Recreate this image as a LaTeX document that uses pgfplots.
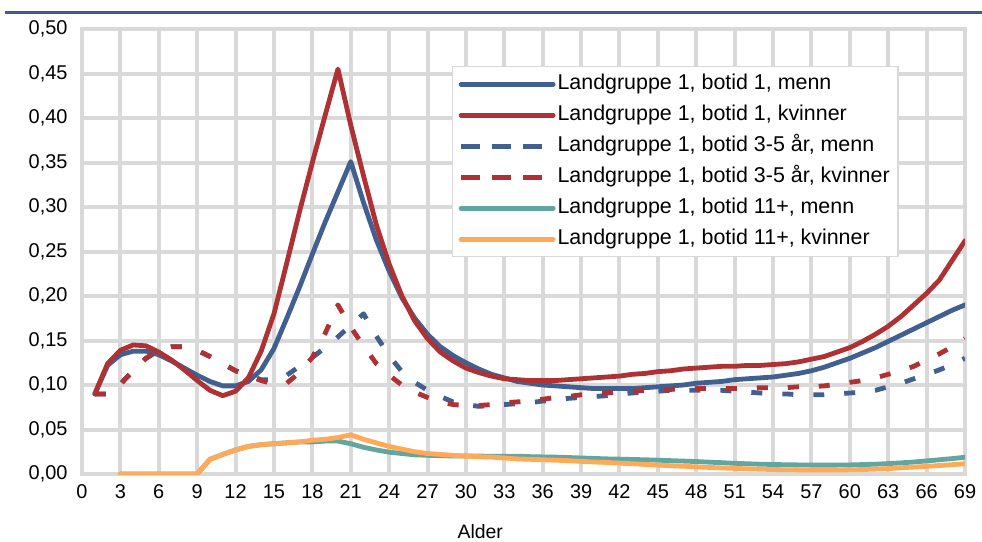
\documentclass[border=0pt]{standalone}
\usepackage{pgfplots}
\pgfplotsset{compat=1.18}
\usepackage{pgfplotstable}
\usepackage{fontspec}
\setmainfont{Liberation Sans}
\definecolor{cblue}{HTML}{41608F}
\definecolor{cred}{HTML}{AE3133}
\definecolor{cteal}{HTML}{62A6A0}
\definecolor{corange}{HTML}{FFAA58}
\definecolor{cgrid}{HTML}{D9D9D9}
\definecolor{ctop}{HTML}{3F5C8E}
\pgfplotstableread{
age b1m b1k b35m b35k b11m b11k
1 0.090 0.090 0.090 0.090 nan nan
2 0.122 0.124 0.090 0.090 nan nan
3 0.134 0.139 0.101 0.101 0.000 0.000
4 0.138 0.145 0.116 0.116 0.000 0.000
5 0.138 0.144 0.130 0.130 0.000 0.000
6 0.134 0.137 0.139 0.139 0.000 0.000
7 0.127 0.128 0.143 0.143 0.000 0.000
8 0.119 0.117 0.143 0.143 0.000 0.000
9 0.111 0.105 0.139 0.139 0.000 0.000
10 0.104 0.094 0.132 0.132 0.0165 0.0165
11 0.099 0.088 0.124 0.124 0.022 0.022
12 0.099 0.093 0.116 0.116 0.027 0.027
13 0.104 0.108 0.111 0.110 0.031 0.031
14 0.117 0.138 0.106 0.105 0.033 0.033
15 0.141 0.180 0.106 0.101 0.034 0.034
16 0.175 0.237 0.111 0.102 0.035 0.035
17 0.210 0.295 0.121 0.114 0.036 0.036
18 0.247 0.350 0.131 0.131 0.036 0.038
19 0.283 0.403 0.142 0.158 0.037 0.039
20 0.317 0.455 0.154 0.190 0.037 0.041
21 0.351 0.392 0.167 0.165 0.034 0.044
22 0.305 0.335 0.180 0.144 0.030 0.039
23 0.263 0.280 0.155 0.124 0.027 0.035
24 0.228 0.236 0.133 0.111 0.0245 0.031
25 0.198 0.200 0.115 0.100 0.023 0.028
26 0.175 0.172 0.103 0.092 0.0215 0.025
27 0.157 0.152 0.094 0.086 0.021 0.023
28 0.143 0.137 0.087 0.081 0.0205 0.022
29 0.133 0.127 0.081 0.078 0.0203 0.021
30 0.125 0.119 0.078 0.077 0.0202 0.020
31 0.118 0.114 0.076 0.077 0.0201 0.0195
32 0.112 0.110 0.077 0.078 0.0200 0.019
33 0.108 0.107 0.078 0.080 0.0200 0.018
34 0.104 0.106 0.079 0.081 0.0200 0.017
35 0.102 0.105 0.080 0.082 0.0195 0.0165
36 0.100 0.105 0.082 0.084 0.0192 0.016
37 0.099 0.105 0.083 0.086 0.019 0.0155
38 0.098 0.106 0.085 0.087 0.0185 0.015
39 0.097 0.107 0.086 0.089 0.018 0.0142
40 0.096 0.108 0.087 0.090 0.0175 0.0135
41 0.096 0.109 0.088 0.091 0.017 0.013
42 0.096 0.110 0.090 0.092 0.0167 0.0122
43 0.096 0.112 0.091 0.093 0.0163 0.0115
44 0.097 0.113 0.092 0.094 0.016 0.0108
45 0.098 0.115 0.093 0.094 0.0155 0.010
46 0.099 0.116 0.094 0.095 0.015 0.0093
47 0.100 0.118 0.094 0.096 0.0145 0.0087
48 0.102 0.119 0.094 0.096 0.014 0.008
49 0.103 0.120 0.094 0.096 0.0133 0.0074
50 0.104 0.121 0.094 0.096 0.0127 0.0068
51 0.106 0.121 0.093 0.096 0.012 0.0063
52 0.107 0.122 0.092 0.096 0.0115 0.0058
53 0.108 0.122 0.091 0.097 0.011 0.0054
54 0.109 0.123 0.090 0.097 0.0107 0.005
55 0.111 0.124 0.090 0.097 0.0104 0.0048
56 0.113 0.126 0.089 0.098 0.0102 0.0046
57 0.116 0.129 0.089 0.098 0.010 0.0045
58 0.120 0.132 0.089 0.099 0.010 0.0045
59 0.125 0.137 0.090 0.101 0.010 0.0045
60 0.130 0.142 0.091 0.103 0.0102 0.0047
61 0.136 0.149 0.092 0.105 0.0106 0.005
62 0.142 0.157 0.094 0.108 0.011 0.0055
63 0.149 0.166 0.098 0.112 0.0117 0.006
64 0.156 0.177 0.102 0.116 0.0125 0.007
65 0.163 0.190 0.107 0.121 0.0135 0.0078
66 0.170 0.203 0.112 0.128 0.0147 0.0086
67 0.177 0.218 0.117 0.135 0.016 0.0095
68 0.184 0.240 0.123 0.143 0.0173 0.0105
69 0.190 0.262 0.130 0.152 0.0188 0.0115
}\data
\begin{document}
\begin{tikzpicture}
\useasboundingbox (-82bp,-68bp) rectangle (900bp,474bp);
\draw[ctop, line width=3bp] (-77bp,461bp) -- (900bp,461bp);
\begin{axis}[
  at={(0,0)}, anchor=south west,
  scale only axis, width=883bp, height=445bp,
  xmin=0, xmax=69, ymin=0, ymax=0.5,
  xtick={0,3,...,69},
  ytick={0,0.05,0.1,0.15,0.2,0.25,0.3,0.35,0.4,0.45,0.5},
  grid=major,
  grid style={draw=cgrid, line width=4bp},
  axis line style={draw=cgrid, line width=4bp},
  tick style={draw=none}, major tick length=0pt,
  ticklabel style={font=\fontsize{20}{23}\selectfont},
  /pgf/number format/assume math mode=true,
  yticklabel style={/pgf/number format/fixed, /pgf/number format/fixed zerofill,
    /pgf/number format/precision=2, /pgf/number format/use comma, xshift=-11bp},
  xticklabel style={yshift=-7bp},
  xlabel={Alder},
  xlabel style={at={(axis description cs:0.451,0)}, anchor=center, yshift=-58bp, font=\fontsize{19.5}{23}\selectfont},
  legend style={at={(0.419,0.917)}, anchor=north west, draw=cgrid, line width=1.5bp, fill=white,
    font=\fontsize{21.5}{25}\selectfont, inner xsep=6bp, inner ysep=2bp,
    nodes={inner ysep=5.5bp, inner xsep=2bp, text height=15.5bp, text depth=4.5bp}},
  legend cell align=left,
  legend image code/.code={\path (-8bp,0bp) -- (84bp,0bp); \draw[#1] (0bp,0bp) -- (83bp,0bp);},
  every axis plot/.append style={line width=4.8bp, line join=round},
]
\addplot[cblue, line cap=round] table[x=age, y=b1m] {\data};
\addlegendentry{Landgruppe 1, botid 1, menn}
\addplot[cred, line cap=round] table[x=age, y=b1k] {\data};
\addlegendentry{Landgruppe 1, botid 1, kvinner}
\addplot[cblue, dash pattern=on 11bp off 20bp] table[x=age, y=b35m] {\data};
\addlegendentry{Landgruppe 1, botid 3-5 år, menn}
\addplot[cred, dash pattern=on 11bp off 20bp] table[x=age, y=b35k] {\data};
\addlegendentry{Landgruppe 1, botid 3-5 år, kvinner\hspace{8bp}}
\addplot[cteal, line cap=round] table[x=age, y=b11m] {\data};
\addlegendentry{Landgruppe 1, botid 11+, menn}
\addplot[corange, line cap=round] table[x=age, y=b11k] {\data};
\addlegendentry{Landgruppe 1, botid 11+, kvinner}
\end{axis}
\end{tikzpicture}
\end{document}
